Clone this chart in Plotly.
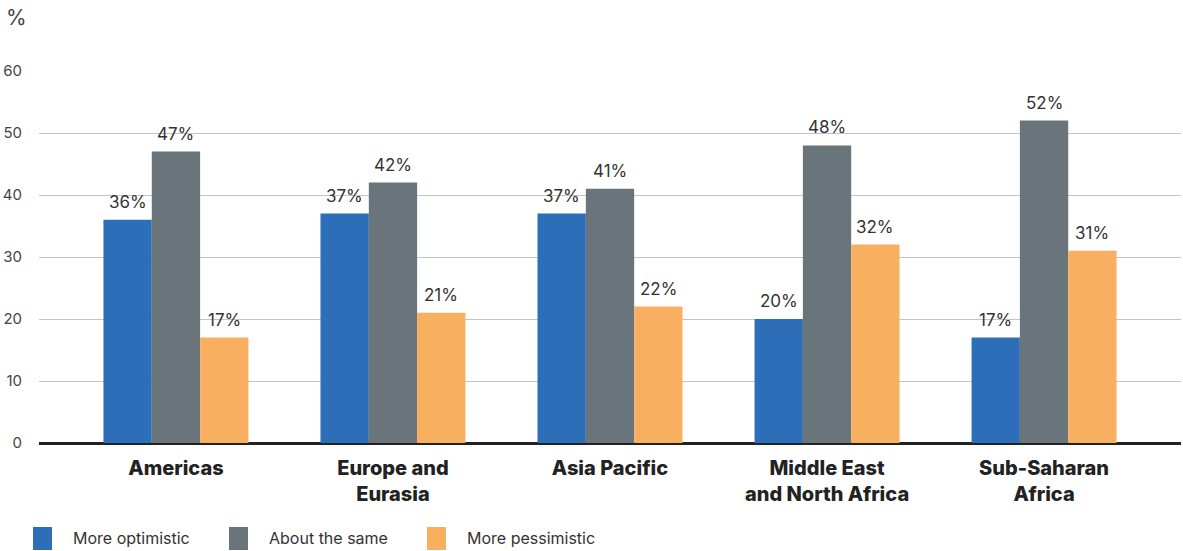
import plotly.graph_objects as go

categories = ["Americas", "Europe and<br>Eurasia", "Asia Pacific", "Middle East<br>and North Africa", "Sub-Saharan<br>Africa"]
series_names = ["More optimistic", "About the same", "More pessimistic"]
optimistic = [36, 37, 37, 20, 17]
same = [47, 42, 41, 48, 52]
pessimistic = [17, 21, 22, 32, 31]
colors = ["#2c6eb7", "#6a747b", "#f8af60"]
y_ticks = [0, 10, 20, 30, 40, 50, 60]

series_values = [optimistic, same, pessimistic]
FONT = "Inter, Roboto, sans-serif"
bargap = 0.332
bw = (1 - bargap) / 3

W, H = 1183, 551
ML, MR, MT, MB = 39, 2, 71, 108
PW, PH = W - ML - MR, H - MT - MB

def px_x(x):
    return (x - ML) / PW

def px_y(y):
    return (H - MB - y) / PH

fig = go.Figure()
for name, vals, col in zip(series_names, series_values, colors):
    fig.add_trace(go.Bar(x=categories, y=vals, name=name, marker_color=col,
                         marker_line_width=0, showlegend=False))

for j, vals in enumerate(series_values):
    for i, v in enumerate(vals):
        fig.add_annotation(x=i + (j - 1) * bw, y=v, text=f"{v}%", showarrow=False,
                           xref="x", yref="y", yanchor="bottom", yshift=6,
                           font=dict(family=FONT, size=17, color="#333333"))

# y-axis unit label
fig.add_annotation(text="%", xref="paper", yref="paper", x=px_x(4), y=px_y(18),
                   xanchor="left", yanchor="middle", showarrow=False,
                   font=dict(family=FONT, size=21, color="#444444"))

# custom legend
legend_x = [33, 229, 427]
for name, col, lx in zip(series_names, colors, legend_x):
    fig.add_shape(type="rect", xref="paper", yref="paper",
                  x0=px_x(lx), x1=px_x(lx + 19), y0=px_y(550), y1=px_y(527),
                  fillcolor=col, line_width=0)
    fig.add_annotation(text=name, xref="paper", yref="paper", x=px_x(lx + 38), y=px_y(538),
                       xanchor="left", yanchor="middle", showarrow=False,
                       font=dict(family=FONT, size=16, color="#333333"))

fig.update_layout(
    width=W, height=H,
    margin=dict(l=ML, r=MR, t=MT, b=MB),
    paper_bgcolor="white", plot_bgcolor="white",
    barmode="group", bargap=bargap, bargroupgap=0,
    font=dict(family=FONT, color="#333333"),
    showlegend=False,
)
fig.update_xaxes(range=[-0.631, 4.631], showgrid=False, showline=False, ticks="",
                 tickfont=dict(family=FONT, size=20, color="#222222", weight=800),
                 ticklabelstandoff=11)
fig.update_yaxes(range=[0, 60], tickvals=y_ticks, showgrid=True, gridcolor="#c4c4c4", gridwidth=1,
                 zeroline=True, zerolinecolor="#222222", zerolinewidth=3,
                 showline=False, ticks="", ticklabelstandoff=16,
                 tickfont=dict(family=FONT, size=15, color="#444444"))

fig.write_html("out.html", config={"displayModeBar": False},
               post_script="document.body.style.margin='0px';")
